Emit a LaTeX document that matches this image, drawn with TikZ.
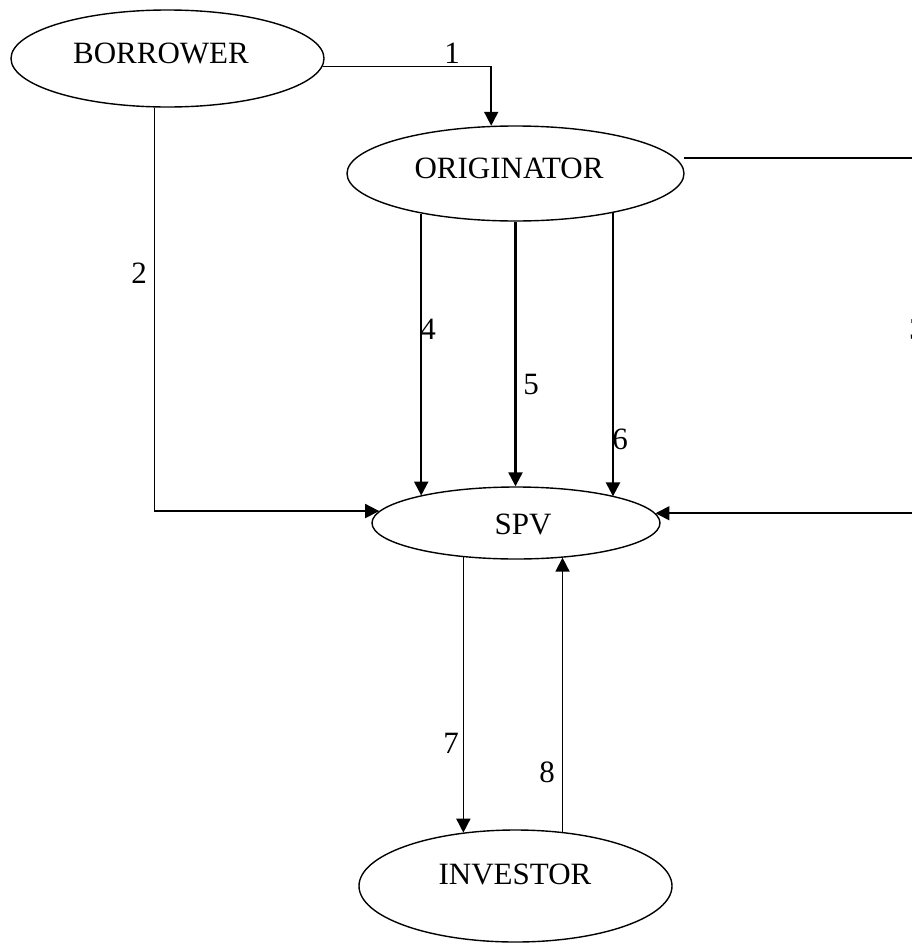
\documentclass[tikz,border=0pt]{standalone}
\usepackage{fontspec}
\setmainfont{Liberation Serif}
\usetikzlibrary{arrows.meta,shapes.geometric,calc}

\tikzset{
  party/.style={ellipse, draw, line width=1.4pt, inner sep=0pt},
  caption/.style={inner sep=0pt, font=\fontsize{31}{37}\selectfont},
  flow/.style={line width=1.7pt, -{Triangle[length=14pt,width=14pt]}},
  heavyflow/.style={flow, line width=2.4pt},
}

\begin{document}
\begin{tikzpicture}[x=1pt,y=-1pt]
  \useasboundingbox (0,0) rectangle (912,945);
  \clip (0,0) rectangle (912,945);

  % the four parties
  \node[party, minimum width=313pt, minimum height=97pt]  (borrower) at (167.5,58.5) {};
  \node[party, minimum width=337pt, minimum height=95pt]  (orig)     at (515.5,173.5) {};
  \node[party, minimum width=288pt, minimum height=72pt]  (spv)      at (516,523) {};
  \node[party, minimum width=313pt, minimum height=112pt] (investor) at (515.5,886) {};

  \node[caption] (tborrower) at (161,53)  {BORROWER};
  \node[caption] (torig)     at (509,168) {ORIGINATOR};
  \node[caption] (tspv)      at (523,524) {SPV};
  \node[caption] (tinvestor) at (515,874) {INVESTOR};

  % 1: borrower to originator
  \draw[flow] (borrower.-3.2) -| (orig.117.5);
  \node[caption] (l1) at (452,53) {1};

  % 2: borrower to SPV
  \draw[flow] (borrower.255.5) |- (spv.175.4);
  \node[caption] (l2) at (139,273) {2};

  % 3: originator to SPV round the right-hand side
  \coordinate (o3) at ($(orig.east)+(-1,-15.5)$);
  \coordinate (r3) at (935,330);
  \draw[flow] (o3) -| (r3) |- (spv.4.6);
  \node[caption] (l3) at (917,329) {3};

  % 4, 5, 6: originator to SPV, kept strictly vertical
  \draw[heavyflow] (orig.203) -- (orig.203 |- spv.164.4);
  \node[caption] (l4) at (428,329) {4};
  \draw[heavyflow] (orig.south) -- (orig.south |- spv.north);
  \node[caption] (l5) at (531,384) {5};
  \draw[heavyflow] (orig.-22) -- (orig.-22 |- spv.15.6);
  \node[caption] (l6) at (620,439) {6};

  % 7: SPV to investor, 8: investor to SPV
  \draw[flow] (spv.213) -- (spv.213 |- investor.135.5);
  \node[caption] (l7) at (451,743) {7};
  \draw[flow] (investor.49) -- (investor.49 |- spv.-36.6);
  \node[caption] (l8) at (547,772) {8};
\end{tikzpicture}
\end{document}
